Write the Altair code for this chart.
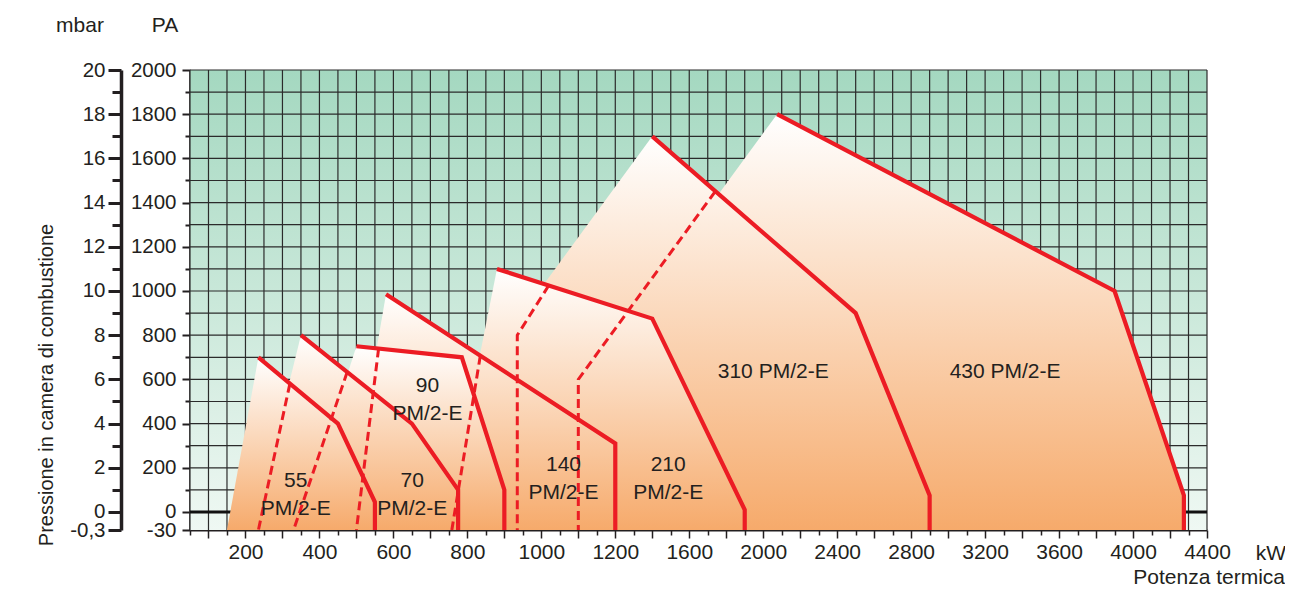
import altair as alt
import pandas as pd

# ---------------- data (kW = potenza termica, Pa = pressione in camera) ----------------
# drawing order: largest envelope first, smaller ones painted on top
draw_order = ["430", "310", "210", "140", "90", "70", "55"]

# envelope outline: first point is the foot of the left (minimum) edge
env_kw = {
    "55":  [150, 235, 450, 550],
    "70":  [220, 350, 650, 775],
    "90":  [340, 500, 785, 900],
    "140": [470, 580, 1200],
    "210": [740, 880, 1400, 1900],
    "310": [520, 1400, 2500, 2900],
    "430": [815, 2075, 3900, 4275],
}
env_pa = {
    "55":  [-30, 700, 400, 45],
    "70":  [-30, 800, 400, 100],
    "90":  [-30, 750, 700, 100],
    "140": [-30, 985, 310],
    "210": [-30, 1100, 875, 10],
    "310": [-30, 1700, 900, 75],
    "430": [-30, 1800, 1000, 75],
}

# dashed (second stage) lines
dash_kw = {
    "55":  [320, 235],
    "70":  [475, 330],
    "90":  [560, 500],
    "140": [835, 758],
    "210": [1020, 935, 935],
    "310": [1740, 1100, 1100],
}
dash_pa = {
    "55":  [580, -30],
    "70":  [633, -30],
    "90":  [740, -30],
    "140": [707, -30],
    "210": [1025, 800, -30],
    "310": [1450, 600, -30],
}

label_text = ["55\nPM/2-E", "70\nPM/2-E", "90\nPM/2-E", "140\nPM/2-E",
              "210\nPM/2-E", "310 PM/2-E", "430 PM/2-E"]
label_kw = [336, 651, 692, 1060, 1486, 2054, 3308]
label_pa = [140, 140, 570, 213, 213, 633, 633]

frame_kw = [50, 4400]
frame_pa = [-30, 2000]
grid_kw = list(range(50, 1201, 50)) + list(range(1300, 4401, 100))
grid_pa = list(range(0, 2001, 100))

# ---------------- styling ----------------
FONT = "Liberation Sans, Arial, Helvetica, sans-serif"
TXT = "#231f20"
RED = "#ec1c24"
GRID = "#2b2b2b"
STRETCH = 81.5 / 30.0          # the band below 0 is drawn stretched
P_BOTTOM = frame_pa[0] * STRETCH
W, H = 1017, 460


def u_expr(f):
    return f"datum.{f} <= 1200 ? datum.{f} / 200 : 6 + (datum.{f} - 1200) / 400"


def p_expr(f):
    return f"datum.{f} < 0 ? datum.{f} * {STRETCH} : datum.{f}"


def base(df):
    return alt.Chart(df).transform_calculate(u=u_expr("kw"), p=p_expr("pa"))


xs = alt.Scale(domain=[0.25, 14], nice=False, zero=False)
ys = alt.Scale(domain=[P_BOTTOM, frame_pa[1]], nice=False, zero=False)

frame_df = pd.DataFrame({"kw": [frame_kw[0]], "kw2": [frame_kw[1]],
                         "pa": [frame_pa[0]], "pa2": [frame_pa[1]]})


def frame_chart():
    return alt.Chart(frame_df).transform_calculate(
        u=u_expr("kw"), u2=u_expr("kw2"), p=p_expr("pa"), p2=p_expr("pa2"))


common_axis = dict(labelFont=FONT, labelColor=TXT,
                   tickColor=TXT, domainColor=TXT, title=None, grid=False,
                   labelOverlap=False, labelFlush=False)

x_major = alt.Axis(values=[0.5 * i for i in range(1, 29)], orient="bottom",
                   labelExpr="datum.value % 1 === 0 && datum.value >= 1 ? '' + (datum.value <= 6 ? datum.value * 200 : 1200 + (datum.value - 6) * 400) : ''",
                   tickSize=8, tickWidth=1.5, domainWidth=2, labelPadding=3,
                   labelFontSize=21, **common_axis)
x_minor = alt.Axis(values=[0.25 + 0.5 * i for i in range(28)], orient="bottom",
                   tickSize=5, tickWidth=1.5, labels=False, domain=False, **common_axis)
pa_major_vals = [P_BOTTOM] + list(range(0, 2001, 200))
pa_minor_vals = list(range(100, 2000, 200))
pa_major = alt.Axis(values=pa_major_vals, orient="left",
                    labelExpr="datum.value < 0 ? '-30' : '' + datum.value",
                    tickSize=8, tickWidth=2, domainWidth=2.5, labelPadding=6,
                    labelFontSize=20.5, **common_axis)
pa_minor = alt.Axis(values=pa_minor_vals, orient="left", tickSize=5, tickWidth=2,
                    labels=False, domain=False, **common_axis)
mbar_major = alt.Axis(values=pa_major_vals, orient="left", offset=69,
                      labelExpr="datum.value < 0 ? '-0,3' : '' + datum.value / 100",
                      tickSize=13, tickWidth=3, domainWidth=3.5, labelPadding=3,
                      labelFontSize=20.5, **common_axis)
mbar_minor = alt.Axis(values=pa_minor_vals, orient="left", offset=69, tickSize=9, tickWidth=3,
                      labels=False, domain=False, **common_axis)

# background with gradient
bg = frame_chart().mark_rect(
    fill=alt.Gradient(gradient="linear",
                      stops=[alt.GradientStop(color="#a4d8c0", offset=0),
                             alt.GradientStop(color="#eff8f3", offset=1)],
                      x1=0, x2=0, y1=0, y2=1)
).encode(x=alt.X("u:Q", scale=xs, axis=None), x2="u2:Q",
         y=alt.Y("p:Q", scale=ys, axis=None), y2="p2:Q")

vgrid = base(pd.DataFrame({"kw": grid_kw})).mark_rule(color=GRID, strokeWidth=1.2).encode(
    x=alt.X("u:Q", scale=xs, axis=None))
hgrid = base(pd.DataFrame({"pa": grid_pa})).mark_rule(color=GRID, strokeWidth=1.2).encode(
    y=alt.Y("p:Q", scale=ys, axis=None))
zero_line = base(pd.DataFrame({"pa": [0]})).mark_rule(color="#111111", strokeWidth=3).encode(
    y=alt.Y("p:Q", scale=ys, axis=None))

fill_grad = alt.Gradient(gradient="linear",
                         stops=[alt.GradientStop(color="#ffffff", offset=0),
                                alt.GradientStop(color="#f6aa6b", offset=1)],
                         x1=0, x2=0, y1=0, y2=1)

areas = []
outline_rows = []
for m in draw_order:
    df = pd.DataFrame({"kw": env_kw[m], "pa": env_pa[m], "base": frame_pa[0]})
    areas.append(
        base(df).transform_calculate(pb=p_expr("base")).mark_area(fill=fill_grad, stroke=None).encode(
            x=alt.X("u:Q", scale=xs, axis=None),
            y=alt.Y("p:Q", scale=ys, axis=None),
            y2="pb:Q"))
    pts = list(zip(env_kw[m][1:], env_pa[m][1:])) + [(env_kw[m][-1], frame_pa[0])]
    for i, (k, p) in enumerate(pts):
        outline_rows.append({"model": m, "i": i, "kw": k, "pa": p})

dash_rows = []
for m in dash_kw:
    for i, (k, p) in enumerate(zip(dash_kw[m], dash_pa[m])):
        dash_rows.append({"model": m, "i": i, "kw": k, "pa": p})

outlines = base(pd.DataFrame(outline_rows)).mark_line(
    color=RED, strokeWidth=4.2, strokeJoin="miter", strokeCap="butt").encode(
    x=alt.X("u:Q", scale=xs, axis=None), y=alt.Y("p:Q", scale=ys, axis=None),
    detail="model:N", order="i:Q")

dashes = base(pd.DataFrame(dash_rows)).mark_line(
    color=RED, strokeWidth=3, strokeDash=[9, 5], strokeCap="butt").encode(
    x=alt.X("u:Q", scale=xs, axis=None), y=alt.Y("p:Q", scale=ys, axis=None),
    detail="model:N", order="i:Q")

labels = base(pd.DataFrame({"kw": label_kw, "pa": label_pa, "t": label_text})).mark_text(
    font=FONT, fontSize=21, color=TXT, lineBreak="\n", lineHeight=28,
    align="center", baseline="middle").encode(
    x=alt.X("u:Q", scale=xs, axis=None), y=alt.Y("p:Q", scale=ys, axis=None), text="t:N")


def caption(txt, x, y, align="center", angle=0):
    return alt.Chart(pd.DataFrame({"t": [txt]})).mark_text(
        font=FONT, fontSize=21 if angle == 0 else 20, color=TXT, align=align,
        baseline="middle", angle=angle).encode(
        x=alt.value(x), y=alt.value(y), text="t:N")


main = alt.layer(bg, vgrid, hgrid, zero_line, *areas, outlines, dashes, labels,
                 caption("mbar", -110, -44), caption("PA", -25, -44),
                 caption("kW", 1081, 484), caption("Potenza termica", 1095, 508, align="right"),
                 caption("Pressione in camera di combustione", -143, 315, angle=270))


def axis_layer(xaxis=None, yaxis=None):
    return frame_chart().mark_rect(opacity=0).encode(
        x=alt.X("u:Q", scale=xs, axis=xaxis), x2="u2:Q",
        y=alt.Y("p:Q", scale=ys, axis=yaxis), y2="p2:Q")


chart = alt.layer(
    main,
    axis_layer(xaxis=x_minor),
    axis_layer(xaxis=x_major, yaxis=pa_major),
    axis_layer(yaxis=pa_minor),
    axis_layer(yaxis=mbar_major),
    axis_layer(yaxis=mbar_minor),
).resolve_scale(x="independent", y="independent").properties(
    width=W, height=H, autosize="none",
    padding={"left": 182, "top": 62, "right": 78, "bottom": 58},
    background="white",
).configure_view(stroke=None)

chart.save("out.html", embed_options={"renderer": "svg", "actions": False})
